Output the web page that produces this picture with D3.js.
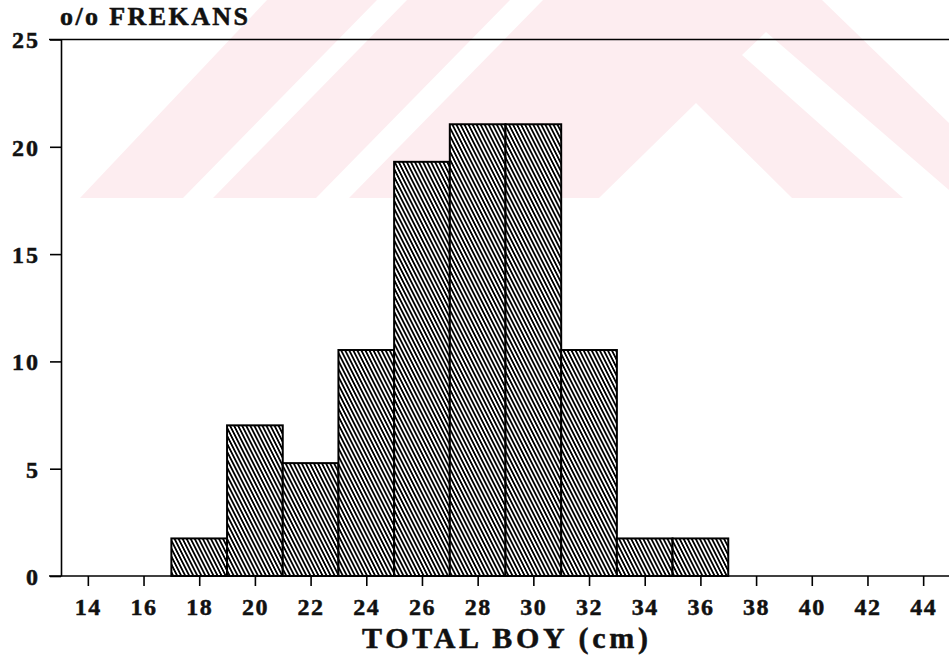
<!DOCTYPE html>
<html>
<head>
<meta charset="utf-8">
<script src="https://cdn.jsdelivr.net/npm/d3@7/dist/d3.min.js"></script>
<style>
  html, body { margin: 0; padding: 0; background: #fff; }
  svg { display: block; }
  .lbl { font-family: "Liberation Serif", "Times New Roman", serif; font-weight: bold; fill: #111; stroke: #111; stroke-width: 0.5px; }
</style>
</head>
<body>
<svg id="chart" width="949" height="667"></svg>
<script>
// ---- data ----
const binMids = [18, 20, 22, 24, 26, 28, 30, 32, 34, 36];
const freqPct = [1.75, 7.02, 5.26, 10.53, 19.30, 21.05, 21.05, 10.53, 1.75, 1.75];
const binWidth = 2;
const xTickValues = [14, 16, 18, 20, 22, 24, 26, 28, 30, 32, 34, 36, 38, 40, 42, 44];
const yTickValues = [0, 5, 10, 15, 20, 25];
const yTitle = "o/o FREKANS";
const xTitle = "TOTAL BOY (cm)";

const svg = d3.select("#chart");
const W = 949, H = 667;

// ---- faint scan watermark (background) ----
const wm = svg.append("g");
const pink = "#fdedf0";
wm.append("polygon").attr("points", "80,198 267,0 822,0 949,123 949,198").attr("fill", pink);
const whites = [
  "183,198 213,198 407,0 377,0",
  "316,198 349,198 543,0 510,0",
  "599,198 696,103 792,198",
  "742,55 766,32 949,190 949,198 903,198"
];
whites.forEach(p => wm.append("polygon").attr("points", p).attr("fill", "#fff"));

// ---- hatch pattern ----
const defs = svg.append("defs");
const pat = defs.append("pattern")
  .attr("id", "hatch")
  .attr("patternUnits", "userSpaceOnUse")
  .attr("width", 3.6).attr("height", 10)
  .attr("patternTransform", "rotate(-27)");
pat.append("rect").attr("width", 3.6).attr("height", 10).attr("fill", "#fff");
pat.append("line").attr("x1", 0.9).attr("y1", 0).attr("x2", 0.9).attr("y2", 10)
  .attr("stroke", "#000").attr("stroke-width", 1.8);

// ---- scales ----
const x = d3.scaleLinear().domain([13, 45]).range([60, 951]);
const y = d3.scaleLinear().domain([0, 25]).range([576, 39.5]);

// ---- top line (at 25) ----
svg.append("line").attr("x1", 49).attr("x2", W).attr("y1", y(25)).attr("y2", y(25))
  .attr("stroke", "#000").attr("stroke-width", 1.6);

// ---- bars ----
svg.append("g").selectAll("rect")
  .data(binMids.map((m, i) => ({ m, v: freqPct[i] })))
  .join("rect")
  .attr("x", d => x(d.m - binWidth / 2))
  .attr("y", d => y(d.v))
  .attr("width", d => x(d.m + binWidth / 2) - x(d.m - binWidth / 2))
  .attr("height", d => y(0) - y(d.v))
  .attr("fill", "url(#hatch)")
  .attr("stroke", "#000")
  .attr("stroke-width", 2);

// ---- x axis ----
const gx = svg.append("g").attr("transform", `translate(0,${y(0)})`)
  .call(d3.axisBottom(x).tickValues(xTickValues).tickSize(10).tickPadding(12).tickSizeOuter(0));
gx.select(".domain").remove();
gx.selectAll(".tick line").attr("stroke", "#000").attr("stroke-width", 1.6);
gx.selectAll(".tick text").attr("class", "lbl").attr("font-size", 24).attr("letter-spacing", 1.5);
svg.append("line").attr("x1", 49).attr("x2", W).attr("y1", y(0)).attr("y2", y(0))
  .attr("stroke", "#000").attr("stroke-width", 1.6);

// ---- y axis ----
const gy = svg.append("g").attr("transform", `translate(61,0)`)
  .call(d3.axisLeft(y).tickValues(yTickValues).tickSize(11).tickPadding(10).tickSizeOuter(0));
gy.select(".domain").attr("stroke", "#000").attr("stroke-width", 1.6);
gy.selectAll(".tick line").attr("stroke", "#000").attr("stroke-width", 1.6);
gy.selectAll(".tick text").attr("class", "lbl").attr("font-size", 24).attr("letter-spacing", 2)
  .attr("dy", "0.35em");

// ---- titles ----
svg.append("text").attr("class", "lbl").attr("x", 60).attr("y", 25)
  .attr("font-size", 26).attr("textLength", 188).attr("lengthAdjust", "spacing")
  .text(yTitle);
svg.append("text").attr("class", "lbl").attr("x", 362).attr("y", 648)
  .attr("font-size", 30).attr("textLength", 286).attr("lengthAdjust", "spacing")
  .text(xTitle);
</script>
</body>
</html>
